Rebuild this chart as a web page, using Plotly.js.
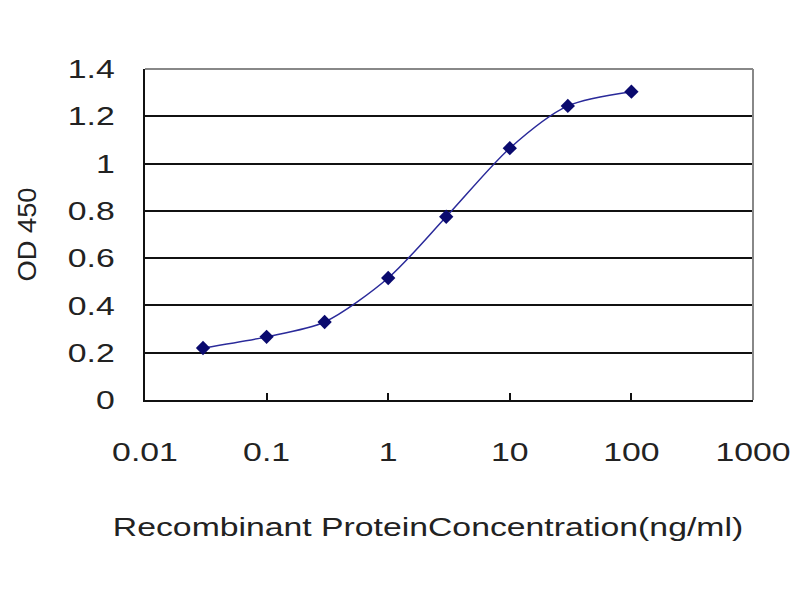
<!DOCTYPE html>
<html>
<head>
<meta charset="utf-8">
<script src="https://cdn.plot.ly/plotly-3.0.1.min.js"></script>
<style>html,body{margin:0;padding:0;background:#fff;}#chart{width:800px;height:600px;}</style>
</head>
<body>
<div id="chart"></div>
<script>
const concentration = [0.03, 0.1, 0.3, 1, 3, 10, 30, 100];
const od450 = [0.22, 0.267, 0.33, 0.516, 0.775, 1.065, 1.244, 1.304];
const xTickVals = [0.01, 0.1, 1, 10, 100, 1000];
const xTickText = ["0.01", "0.1", "1", "10", "100", "1000"];
const yTickVals = [0, 0.2, 0.4, 0.6, 0.8, 1, 1.2, 1.4];
const yTickText = ["0", "0.2", "0.4", "0.6", "0.8", "1", "1.2", "1.4"];

const trace = {
  x: concentration,
  y: od450,
  type: 'scatter',
  mode: 'lines+markers',
  line: {color: '#2a2a9a', width: 1.5, shape: 'spline', smoothing: 0.8},
  marker: {symbol: 'diamond', size: 11, color: '#0a0a6e'},
  cliponaxis: false
};

const layout = {
  width: 800, height: 600,
  margin: {l: 145, r: 47, t: 69, b: 200},
  paper_bgcolor: '#ffffff',
  plot_bgcolor: '#ffffff',
  showlegend: false,
  font: {family: 'Liberation Sans, Arial, sans-serif', color: '#222'},
  xaxis: {
    type: 'log',
    range: [-2, 3],
    tickvals: xTickVals,
    ticktext: xTickText,
    tickfont: {size: 26, color: '#222'},
    showgrid: false,
    zeroline: false,
    showline: true,
    linecolor: '#111',
    linewidth: 2,
    ticks: 'inside',
    ticklen: 7,
    tickwidth: 2,
    tickcolor: '#111',
    ticklabelstandoff: 28,
    title: {text: 'Recombinant ProteinConcentration(ng/ml)', font: {size: 25, color: '#222'}, standoff: 52}
  },
  yaxis: {
    range: [0, 1.4],
    tickvals: yTickVals,
    ticktext: yTickText,
    tickfont: {size: 26, color: '#222'},
    showgrid: true,
    gridcolor: '#111',
    gridwidth: 2,
    zeroline: false,
    showline: true,
    linecolor: '#111',
    linewidth: 2,
    ticks: '',
    ticklabelstandoff: 23,
    title: {text: 'OD 450', font: {size: 26, color: '#222'}, standoff: 35}
  },
  shapes: [
    {type: 'line', xref: 'paper', yref: 'paper', x0: 0, x1: 1, y0: 1, y1: 1, line: {color: '#888', width: 2}},
    {type: 'line', xref: 'paper', yref: 'paper', x0: 1, x1: 1, y0: 0, y1: 1, line: {color: '#888', width: 2}}
  ]
};

function stretch(selector, factor, dx) {
  document.querySelectorAll(selector).forEach(function (t) {
    const w = t.getComputedTextLength();
    if (w > 0) {
      t.setAttribute('textLength', (w * factor).toFixed(1));
      t.setAttribute('lengthAdjust', 'spacingAndGlyphs');
    }
    if (dx) {
      t.setAttribute('x', (parseFloat(t.getAttribute('x')) + dx).toFixed(1));
    }
  });
}

Plotly.newPlot('chart', [trace], layout, {displayModeBar: false, staticPlot: true}).then(function () {
  stretch('.xtick text', 1.3);
  stretch('.ytick text', 1.3);
  stretch('.g-xtitle text', 1.35, -21);
  stretch('.g-ytitle text', 1.05);
});
</script>
</body>
</html>
